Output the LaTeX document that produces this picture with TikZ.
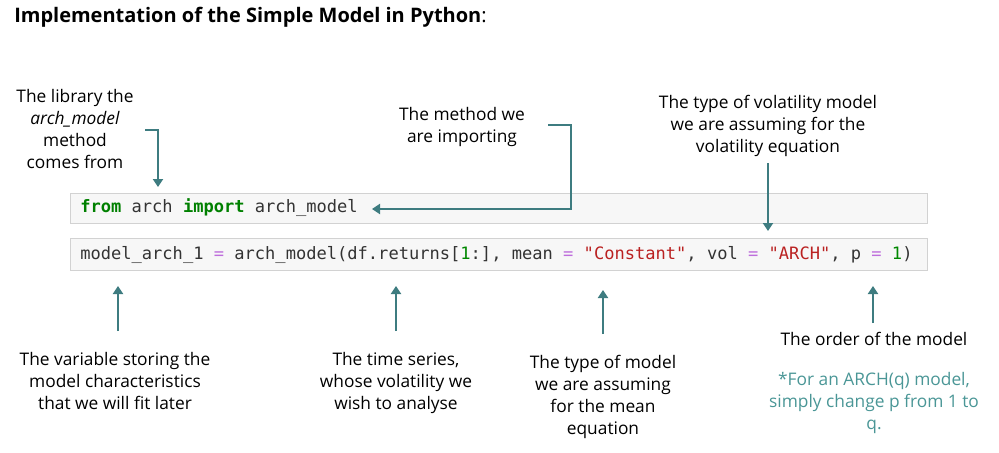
\documentclass[tikz,border=0pt]{standalone}
\usepackage{fontspec}
\setmainfont{Open Sans}
\setmonofont{DejaVu Sans Mono}
\usetikzlibrary{arrows.meta}
\definecolor{tealarr}{RGB}{62,124,128}
\definecolor{tealtxt}{RGB}{74,150,150}
\definecolor{kwgreen}{RGB}{0,128,0}
\definecolor{numgreen}{RGB}{0,136,0}
\definecolor{opc}{RGB}{190,110,220}
\definecolor{strc}{RGB}{186,33,33}
\definecolor{boxfill}{RGB}{247,247,247}
\definecolor{boxline}{RGB}{210,210,210}
\definecolor{codetxt}{RGB}{51,51,51}
\tikzset{
  lbl/.style={font=\fontsize{13}{16.6}\selectfont, align=center, anchor=north, inner sep=0pt},
  codebox/.style={draw=boxline, fill=boxfill, line width=0.75pt},
  codetext/.style={font=\fontsize{12.8}{15}\selectfont\ttfamily, anchor=base west, inner sep=0pt, text=codetxt},
  arr/.style={draw=tealarr, line width=2.2pt, -{Triangle[length=6pt,width=7.5pt]}},
}
\begin{document}
\begin{tikzpicture}[x=0.75pt,y=-0.75pt]
\useasboundingbox (0,0) rectangle (999,453);
% title
\node[anchor=base west, inner sep=0pt, font=\fontsize{15}{17}\selectfont] (title) at (14,23)
  {\bfseries Implementation of the Simple Model in Python\mdseries:};
% code boxes
\draw[codebox] (70,193) rectangle (927,223);
\draw[codebox] (70,238) rectangle (927,270);
\node[codetext] (code1) at (80,212)
  {\textcolor{kwgreen}{\bfseries from} arch \textcolor{kwgreen}{\bfseries import} arch\_model};
\node[codetext] (code2) at (80,259)
  {model\_arch\_1 \textcolor{opc}{=} arch\_model(df.returns[\textcolor{numgreen}{1}:], mean \textcolor{opc}{=} \textcolor{strc}{"Constant"}, vol \textcolor{opc}{=} \textcolor{strc}{"ARCH"}, p \textcolor{opc}{=} \textcolor{numgreen}{1})};
% labels above (y = first baseline - 13)
\node[lbl] (lib) at (75,89) {The library the\\\textit{arch\_model}\\method\\comes from};
\node[lbl] (meth) at (462,107) {The method we\\are importing};
\node[lbl] (vol) at (768,95) {The type of volatility model\\we are assuming for the\\volatility equation};
% labels below
\node[lbl] (var) at (115,352) {The variable storing the\\model characteristics\\that we will fit later};
\node[lbl] (ts) at (396,352) {The time series,\\whose volatility we\\wish to analyse};
\node[lbl] (mean) at (603,355) {The type of model\\we are assuming\\for the mean\\equation};
\node[lbl] (order) at (874,332) {The order of the model};
\node[lbl, text=tealtxt] (note) at (874,372) {*For an ARCH(q) model,\\simply change p from 1 to\\q.};
% connector coordinates
\coordinate (libS) at (145,130);
\coordinate (libC) at (158,130);
\coordinate (libE) at (158,187);
\coordinate (methS) at (548,125);
\coordinate (methC1) at (571,125);
\coordinate (methC2) at (571,209);
\coordinate (methE) at (372,209);
\coordinate (volS) at (768,163);
\coordinate (volE) at (768,231);
\coordinate (varS) at (118,331);
\coordinate (varE) at (118,286);
\coordinate (tsS) at (396,331);
\coordinate (tsE) at (396,286);
\coordinate (meanS) at (603,334);
\coordinate (meanE) at (603,290);
\coordinate (orderS) at (873,323);
\coordinate (orderE) at (873,286);
% connectors
\draw[arr] (libS) -- (libC) -- (libE);
\draw[arr] (methS) -- (methC1) -- (methC2) -- (methE);
\draw[arr] (volS) -- (volE);
\draw[arr] (varS) -- (varE);
\draw[arr] (tsS) -- (tsE);
\draw[arr] (meanS) -- (meanE);
\draw[arr] (orderS) -- (orderE);
\end{tikzpicture}
\end{document}
